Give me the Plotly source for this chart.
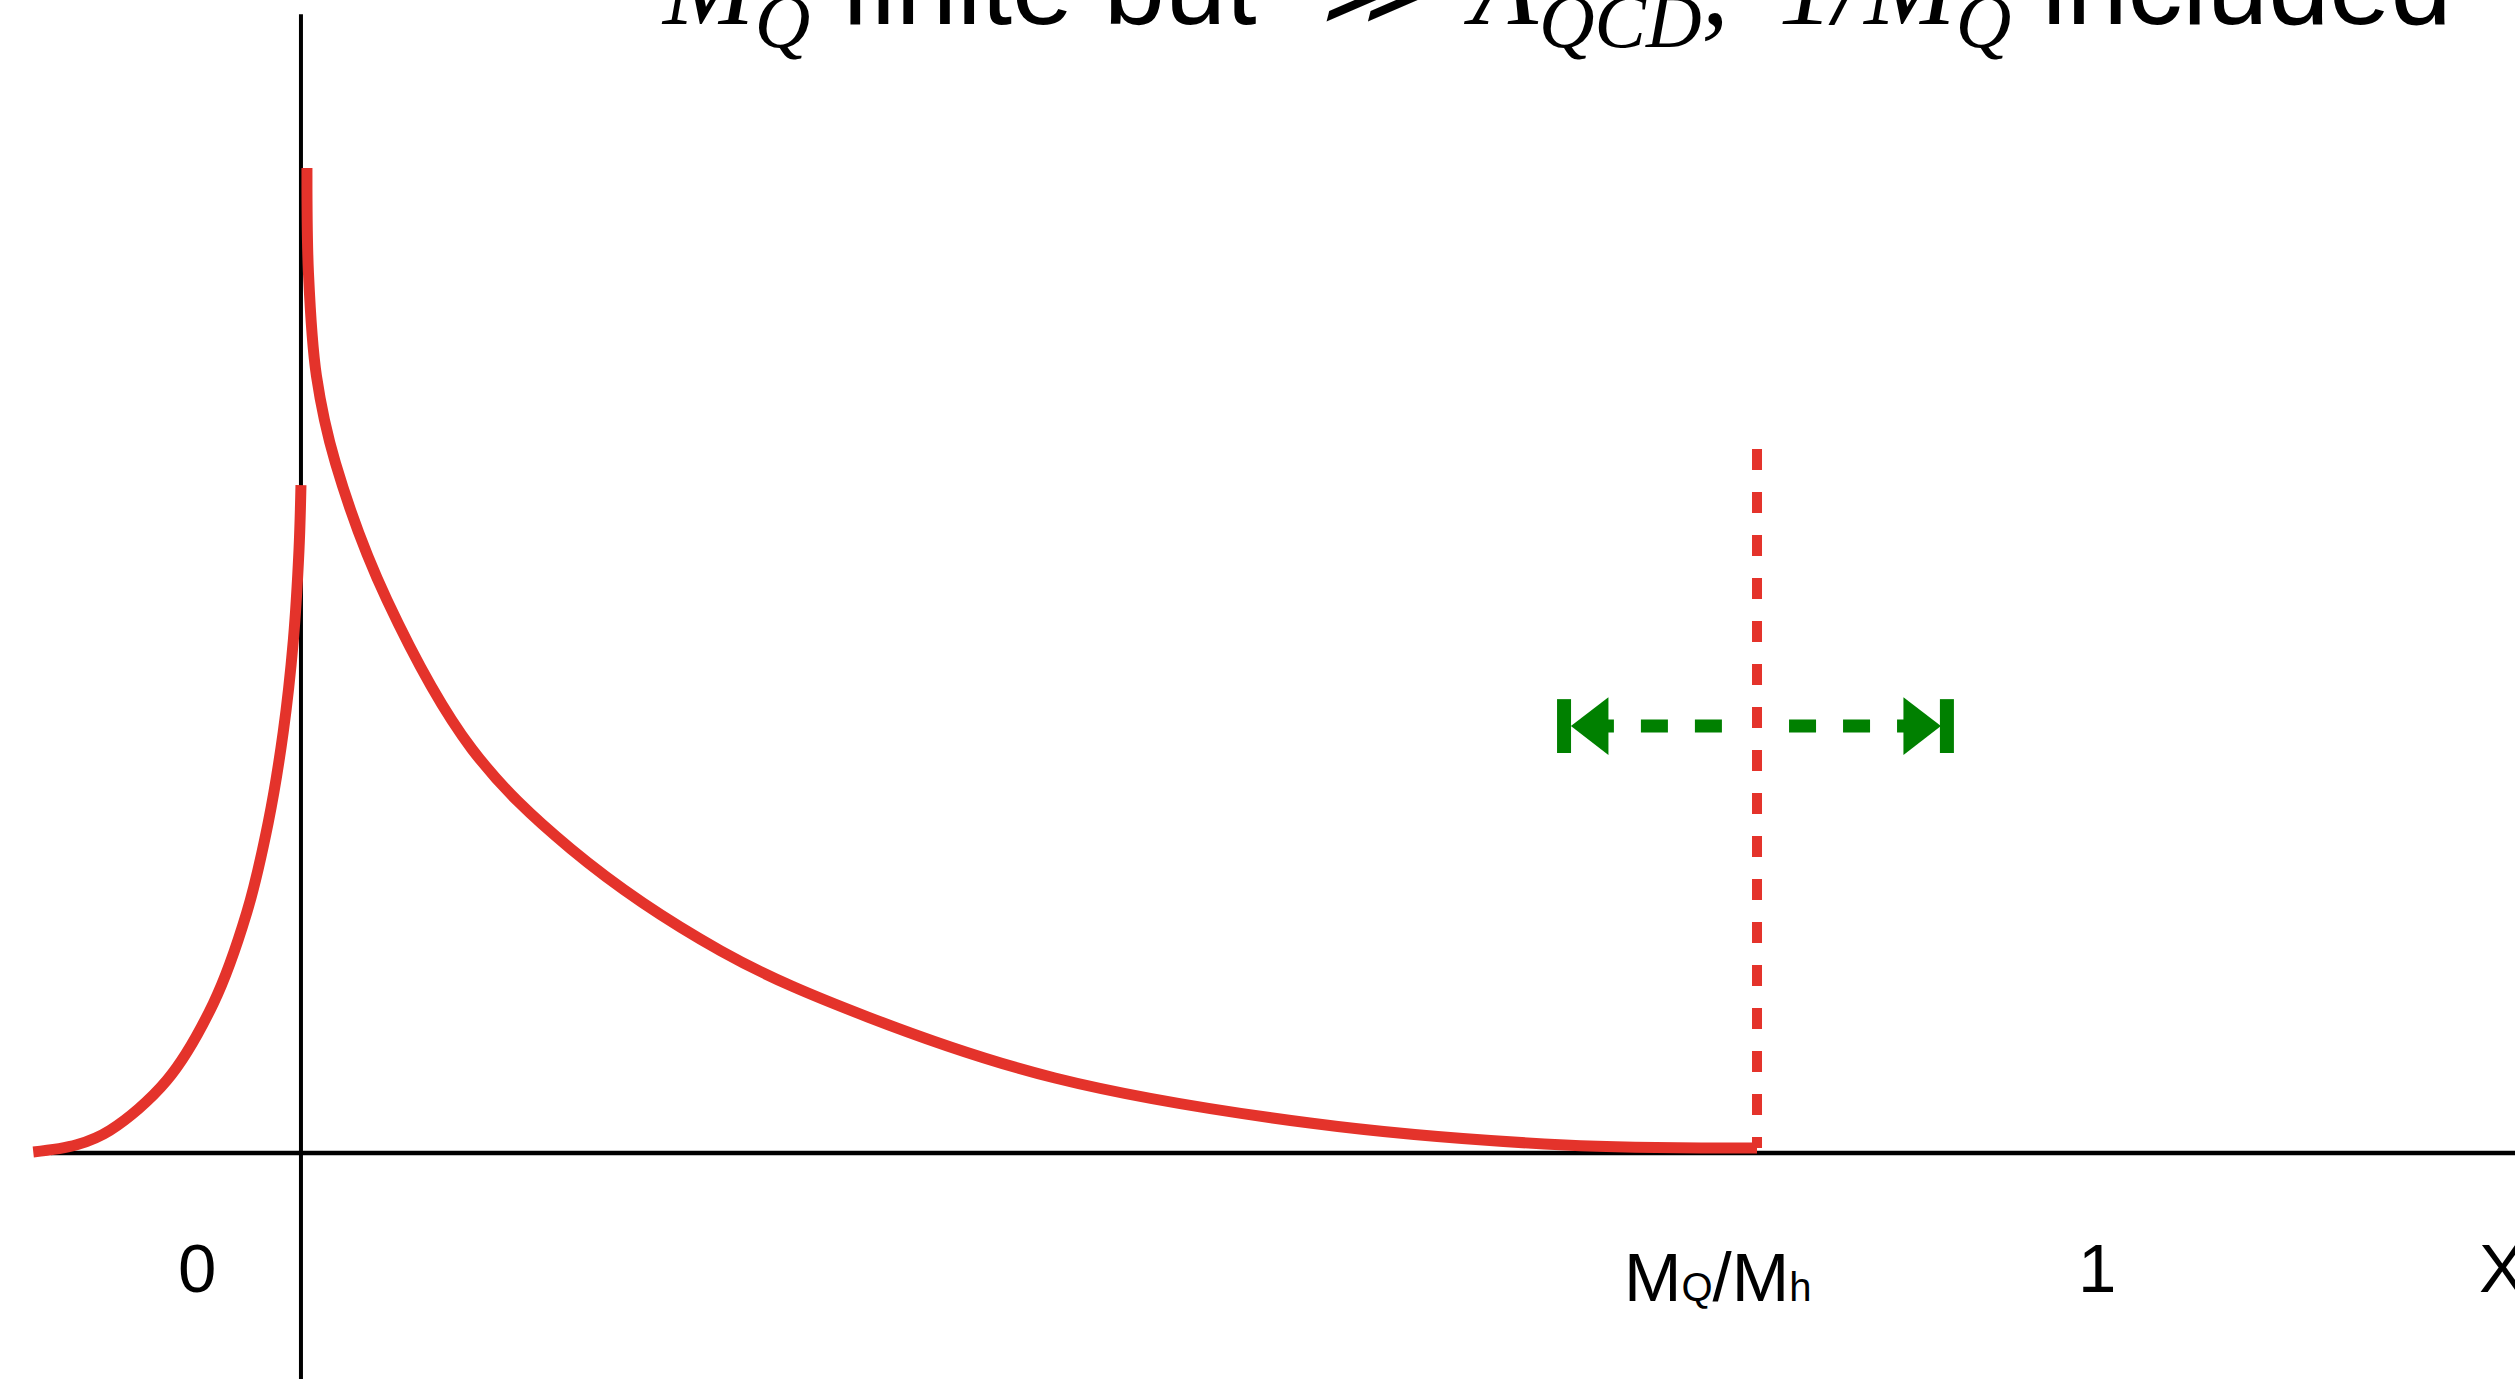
import plotly.graph_objects as go

# ---------------- data (x: 0 = origin, 1 = "1"; y: peak = 1) ----------------
left_x = [-0.14872, -0.12461, -0.10611, -0.07461, -0.04872, -0.03017, -0.01817, -0.00983, -0.00428, -0.00111, 0.0]
left_y = [0.001, 0.0083, 0.023, 0.0735, 0.1516, 0.2435, 0.3354, 0.4273, 0.5191, 0.611, 0.6775]

right_x = [0.00333, 0.00417, 0.00861, 0.01917, 0.04778, 0.095, 0.15, 0.23333, 0.315, 0.41889,
           0.56056, 0.70222, 0.80889]
right_y = [0.999, 0.8925, 0.788, 0.6998, 0.5609, 0.4097, 0.3083, 0.2049, 0.1379, 0.0761,
           0.0304, 0.0081, 0.0051]

mq_x = [0.8089, 0.8089]          # M_Q/M_h position (dashed line)
mq_y = [0.714, 0.005]

arrow_y = 0.433
arrow_left_line_x = [0.7894, 0.7067]
arrow_right_line_x = [0.8267, 0.9083]
arrow_bar_x = [0.7017, 0.9144]
arrow_tri_left_x = [0.7194]
arrow_tri_right_x = [0.8972]

tick_labels = ["0", "M<span style=\"font-size:40px\">Q</span>/M<span style=\"font-size:40px\">h</span>", "1"]
tick_x = [-0.0578, 0.787, 0.998]
tick_y = [-0.1176, -0.1258, -0.1176]
axis_label = "X"
axis_label_x = 1.2089

x_range = [-0.1672, 1.2300]
y_range = [-0.2292, 1.1694]

RED = "#E4332B"
GREEN = "#008000"
W, H = 2515, 1379

fig = go.Figure()

# axes lines
fig.add_trace(go.Scatter(x=[0, 0], y=[1.155, -0.3], mode="lines",
                         line=dict(color="black", width=4), hoverinfo="skip"))
fig.add_trace(go.Scatter(x=[-0.139, 1.3], y=[0, 0], mode="lines",
                         line=dict(color="black", width=4.5), hoverinfo="skip"))

# curves
fig.add_trace(go.Scatter(x=left_x, y=left_y, mode="lines",
                         line=dict(color=RED, width=11, shape="spline", smoothing=1.0, simplify=False)))
fig.add_trace(go.Scatter(x=right_x, y=right_y, mode="lines",
                         line=dict(color=RED, width=11, shape="spline", smoothing=1.0, simplify=False)))

# dashed vertical at M_Q/M_h
fig.add_trace(go.Scatter(x=mq_x, y=mq_y, mode="lines",
                         line=dict(color=RED, width=10, dash="21px,22px")))

# green double arrow
for lx in (arrow_left_line_x, arrow_right_line_x):
    fig.add_trace(go.Scatter(x=lx, y=[arrow_y, arrow_y], mode="lines",
                             line=dict(color=GREEN, width=13, dash="27px,27px")))
fig.add_trace(go.Scatter(x=arrow_bar_x, y=[arrow_y] * 2, mode="markers",
                         marker=dict(symbol="line-ns", size=38.5, line=dict(color=GREEN, width=14))))
fig.add_trace(go.Scatter(x=arrow_tri_left_x, y=[arrow_y], mode="markers",
                         marker=dict(symbol="triangle-left", size=50, color=GREEN, line=dict(width=0))))
fig.add_trace(go.Scatter(x=arrow_tri_right_x, y=[arrow_y], mode="markers",
                         marker=dict(symbol="triangle-right", size=50, color=GREEN, line=dict(width=0))))

label_font = dict(family="Liberation Sans, Arial", size=69, color="black")
for t, x, y in zip(tick_labels, tick_x, tick_y):
    fig.add_annotation(x=x, y=y, xref="x", yref="y", text=t, showarrow=False,
                       xanchor="center", yanchor="middle", font=label_font)
fig.add_annotation(x=axis_label_x, y=tick_y[0], xref="x", yref="y", text=axis_label, showarrow=False,
                   xanchor="left", yanchor="middle", font=label_font)

serif = 'font-family:Liberation Serif'
title_text = (f'<i><span style="{serif}">M<sub>Q</sub></span></i>'
              ' finite but  '
              f'<span style="{serif}"><i>≫</i></span> \u200a'
              f'<i><span style="{serif}">Λ<sub>QCD</sub>, \u20091/M<sub>Q</sub></span></i>'
              ' included')
fig.add_annotation(x=659 / W, y=0.9525, xref="paper", yref="paper", text=title_text,
                   showarrow=False, xanchor="left", yanchor="bottom",
                   font=dict(family="Liberation Sans, Arial", size=110, color="black"))

fig.update_layout(
    width=W, height=H, margin=dict(l=0, r=0, t=0, b=0),
    paper_bgcolor="white", plot_bgcolor="white", showlegend=False,
    xaxis=dict(visible=False, range=x_range, fixedrange=True),
    yaxis=dict(visible=False, range=y_range, fixedrange=True),
)

fig.write_html("out.html", config={"displayModeBar": False},
               post_script="document.body.style.margin='0';document.body.style.overflow='hidden';")
